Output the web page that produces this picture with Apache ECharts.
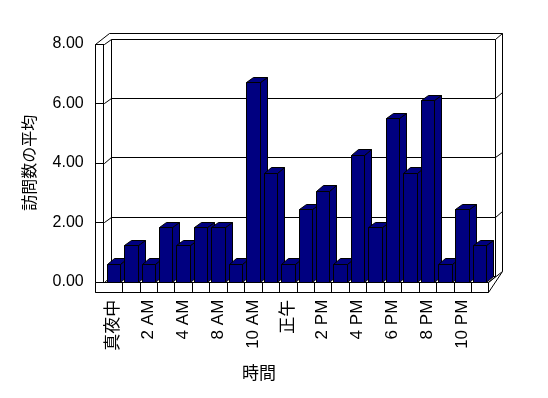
<!DOCTYPE html>
<html>
<head>
<meta charset="utf-8">
<script src="https://cdn.jsdelivr.net/npm/echarts@6/dist/echarts.min.js"></script>
<style>
  html, body { margin: 0; padding: 0; background: #fff; }
  #chart { width: 548px; height: 398px; }
</style>
</head>
<body>
<div id="chart"></div>
<script>
// 時間帯 (一部の時間帯はデータなし)
var hours = ['真夜中', '1 AM', '2 AM', '3 AM', '4 AM', '7 AM', '8 AM', '9 AM', '10 AM', '11 AM', '正午',
  '1 PM', '2 PM', '3 PM', '4 PM', '5 PM', '6 PM', '7 PM', '8 PM', '9 PM', '10 PM', '11 PM'];
// 訪問数の平均
var visits = [0.61, 1.22, 0.61, 1.83, 1.22, 1.83, 1.83, 0.61, 6.72, 3.67, 0.61,
  2.44, 3.06, 0.61, 4.28, 1.83, 5.50, 3.67, 6.11, 0.61, 2.44, 1.22];
var yTicks = [0, 2, 4, 6, 8];

var font = '"Liberation Sans", "Noto Sans CJK JP", sans-serif';
var DX = 7, DY = -5.5;   // 奥行き
var WALL = 8.4, SLAB = 10;

function r(v) { return Math.round(v) + 0.5; }
function ln(x1, y1, x2, y2) {
  return { type: 'line', shape: { x1: r(x1), y1: r(y1), x2: r(x2), y2: r(y2) },
    style: { stroke: '#000', lineWidth: 1 } };
}
function poly(pts, fill) {
  return { type: 'polygon', shape: { points: pts.map(function (p) { return [r(p[0]), r(p[1])]; }) },
    style: { fill: fill, stroke: '#000', lineWidth: 1 } };
}

// 壁と床
function renderFrame(params, api) {
  var bw = api.size([1, 0])[0];
  var c0 = api.coord([0, 0]);
  var xL = c0[0] - bw / 2;
  var xR = xL + hours.length * bw;
  var yB = c0[1];
  var yT = api.coord([0, yTicks[yTicks.length - 1]])[1];
  var wl = xL - WALL - 1, wr = xL - 1;
  var kids = [];
  // 外形
  kids.push(poly([[wl, yB + SLAB], [wl, yT], [wl + 2 * DX, yT + 2 * DY], [xR + 2 * DX, yT + 2 * DY],
    [xR + 2 * DX, yB + 2 * DY], [xR, yB + SLAB]], '#fff'));
  // 奥の壁
  kids.push(poly([[wr + DX, yB + DY], [wr + DX, yT + DY], [xR + DX, yT + DY], [xR + DX, yB + DY]], '#fff'));
  kids.push(ln(xR + DX, yT + DY, xR + 2 * DX, yT + 2 * DY));
  kids.push(ln(wr, yT, wr + DX, yT + DY));
  // 左の壁
  kids.push({ type: 'rect', shape: { x: r(wl), y: r(yT), width: Math.round(WALL), height: Math.round(yB - yT) },
    style: { fill: '#fff', stroke: '#000', lineWidth: 1 } });
  // 目盛線
  yTicks.forEach(function (t) {
    var y = api.coord([0, t])[1];
    kids.push(ln(wl, y, wr, y));
    if (t > 0 && t < yTicks[yTicks.length - 1]) {
      kids.push(ln(wr, y, wr + DX, y + DY));
      kids.push(ln(wr + DX, y + DY, xR + DX, y + DY));
      kids.push(ln(xR + DX, y + DY, xR + 2 * DX, y + 2 * DY));
    }
  });
  // 床
  kids.push(poly([[wr, yB], [xR, yB], [xR + DX, yB + DY], [wr + DX, yB + DY]], '#fff'));
  kids.push(ln(xR, yB, xR + 2 * DX, yB + 2 * DY));
  kids.push({ type: 'rect', shape: { x: r(wl), y: r(yB), width: Math.round(xR - wl), height: SLAB },
    style: { fill: '#fff', stroke: '#000', lineWidth: 1 } });
  for (var k = 1; k < hours.length; k++) {
    kids.push(ln(xL + k * bw, yB, xL + k * bw, yB + SLAB));
  }
  return { type: 'group', children: kids };
}

// 3D 棒
function renderBar(params, api) {
  var i = api.value(0), v = api.value(1);
  var p = api.coord([i, v]), b = api.coord([i, 0]);
  var w = 13.5;
  var x = p[0] - w / 2, y = p[1], yb = b[1];
  var fill = '#000080';
  return {
    type: 'group',
    children: [
      poly([[x + w, y], [x + w + DX, y + DY], [x + w + DX, yb + DY], [x + w, yb]], fill),
      poly([[x, y], [x + DX, y + DY], [x + w + DX, y + DY], [x + w, y]], fill),
      poly([[x, y], [x + w, y], [x + w, yb], [x, yb]], fill)
    ]
  };
}

var chart = echarts.init(document.getElementById('chart'));
chart.setOption({
  animation: false,
  backgroundColor: '#fff',
  grid: { left: 104.7, right: 59.6, top: 44, bottom: 116.3 },
  xAxis: {
    type: 'category',
    data: hours,
    boundaryGap: true,
    axisLine: { show: false },
    axisTick: { show: false },
    axisLabel: { interval: 1, rotate: 90, margin: 18, color: '#000', fontSize: 17, fontFamily: font }
  },
  yAxis: {
    type: 'value',
    min: 0,
    max: 8,
    interval: 2,
    name: '訪問数の平均',
    nameLocation: 'middle',
    nameGap: 66,
    nameTextStyle: { color: '#000', fontSize: 16, fontFamily: font },
    axisLine: { show: false },
    axisTick: { show: false },
    splitLine: { show: false },
    axisLabel: { margin: 21, color: '#000', fontSize: 16, fontFamily: font,
      formatter: function (v) { return v.toFixed(2); } }
  },
  graphic: [{
    type: 'text', left: 242, top: 366,
    style: { text: '時間', fill: '#000', font: '17px ' + font }
  }],
  series: [
    { type: 'custom', z: 1, clip: false, renderItem: renderFrame, data: [[0, 0]], silent: true },
    { type: 'custom', z: 2, clip: false, renderItem: renderBar,
      data: visits.map(function (v, i) { return [i, v]; }) }
  ]
});
</script>
</body>
</html>
